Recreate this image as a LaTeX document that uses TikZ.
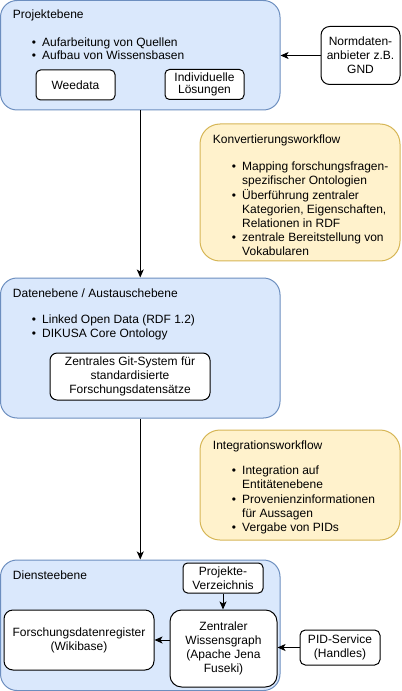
\documentclass[tikz,border=0pt]{standalone}
\usepackage{fontspec}
\setmainfont{Liberation Sans}
\usetikzlibrary{arrows.meta,fit}
\definecolor{bluefill}{HTML}{DAE8FC}
\definecolor{bluedraw}{HTML}{6C8EBF}
\definecolor{yelfill}{HTML}{FFF2CC}
\definecolor{yeldraw}{HTML}{D6B656}
\begin{document}
\begin{tikzpicture}[x=0.75pt,y=-0.75pt,
  every node/.style={font=\fontsize{9}{10.5}\selectfont, inner sep=0pt},
  layerbox/.style={draw=bluedraw, fill=bluefill, line width=0.75pt, rounded corners=12.4pt},
  flowbox/.style={draw=yeldraw, fill=yelfill, line width=0.75pt, rounded corners=15pt},
  whitebox/.style={draw=black, fill=white, line width=0.75pt, align=center, rectangle},
  title/.style={anchor=base west},
  blist/.style={anchor=north west, align=left},
  arr/.style={draw=black, line width=0.75pt, -{Stealth[length=6pt,width=5.2pt,inset=1.5pt]}}
]
\useasboundingbox (0,0) rectangle (401,691);

% layers
\node[layerbox, fit={(0.5,0.5) (280,110)}] (projekt) {};
\node[layerbox, fit={(0.5,278) (280,418)}] (daten) {};
\node[layerbox, fit={(0.5,560) (280,690.5)}] (dienst) {};
\node[flowbox, fit={(200,124) (400,261)}] (konv) {};
\node[flowbox, fit={(200,430) (400,540)}] (integ) {};

% Projektebene
\node[title] (projekttitle) at (12.7,19) {Projektebene};
\node[blist, font=\fontsize{9}{9.9}\selectfont] (projektlist) at (31.5,37) {\begin{tabular}{@{}l@{\hspace{4.7pt}}l@{}}
\textbullet & Aufarbeitung von Quellen\\
\textbullet & Aufbau von Wissensbasen
\end{tabular}};
\node[whitebox, rounded corners=3.4pt, minimum width=59.25pt, minimum height=22.5pt] (weedata) at (75.5,85) {Weedata};
\node[whitebox, rounded corners=3.4pt, minimum width=59.25pt, minimum height=22.5pt, font=\fontsize{9}{9.6}\selectfont] (indiv) at (204.5,84.5) {Individuelle\\Lösungen};
\node[whitebox, rounded corners=6.5pt, minimum width=59.25pt, minimum height=43.5pt] (normdaten) at (360.5,55.5) {Normdaten-\\anbieter z.B.\\GND};

% Konvertierungsworkflow
\node[title] (konvtitle) at (212.7,143.3) {Konvertierungsworkflow};
\node[blist] (konvlist) at (231.5,160.9) {\begin{tabular}{@{}l@{\hspace{4.7pt}}l@{}}
\textbullet & Mapping forschungsfragen-\\
 & spezifischer Ontologien\\
\textbullet & Überführung zentraler\\
 & Kategorien, Eigenschaften,\\
 & Relationen in RDF\\
\textbullet & zentrale Bereitstellung von\\
 & Vokabularen
\end{tabular}};

% Datenebene
\node[title] (datentitle) at (12.7,297.3) {Datenebene / Austauschebene};
\node[blist] (datenlist) at (31.5,313.2) {\begin{tabular}{@{}l@{\hspace{4.7pt}}l@{}}
\textbullet & Linked Open Data (RDF 1.2)\\
\textbullet & DIKUSA Core Ontology
\end{tabular}};
\node[whitebox, rounded corners=5.4pt, minimum width=120pt, minimum height=35.25pt] (git) at (130,376.5) {Zentrales Git-System für\\standardisierte\\Forschungsdatensätze};

% Integrationsworkflow
\node[title] (integtitle) at (212.7,449) {Integrationsworkflow};
\node[blist, font=\fontsize{9}{10.8}\selectfont] (integlist) at (231.5,463.9) {\begin{tabular}{@{}l@{\hspace{4.7pt}}l@{}}
\textbullet & Integration auf\\
 & Entitätenebene\\
\textbullet & Provenienzinformationen\\
 & für Aussagen\\
\textbullet & Vergabe von PIDs
\end{tabular}};

% Diensteebene
\node[title] (diensttitle) at (12.7,579) {Diensteebene};
\node[whitebox, rounded corners=3.4pt, minimum width=60pt, minimum height=22.5pt] (pv) at (223,578) {Projekte-\\Verzeichnis};
\node[whitebox, rounded corners=8.7pt, minimum width=80.25pt, minimum height=57.75pt] (zw) at (223.5,648.5) {Zentraler\\Wissensgraph\\(Apache Jena\\Fuseki)};
\node[whitebox, rounded corners=6.75pt, minimum width=112.5pt, minimum height=45pt] (fdr) at (79,640) {Forschungsdatenregister\\(Wikibase)};
\node[whitebox, rounded corners=4pt, minimum width=60pt, minimum height=26.25pt] (pid) at (340,647.5) {PID-Service\\(Handles)};

% connectors
\draw[arr] (normdaten.west) -- (normdaten.west -| projekt.east);
\draw[arr] (projekt.south) -- (daten.north);
\draw[arr] (daten.south) -- (dienst.north);
\draw[arr] (pv.south) -- (pv.south |- zw.north);
\draw[arr] (zw.west |- fdr.east) -- (fdr.east);
\draw[arr] (pid.west) -- (pid.west -| zw.east);
\end{tikzpicture}
\end{document}
